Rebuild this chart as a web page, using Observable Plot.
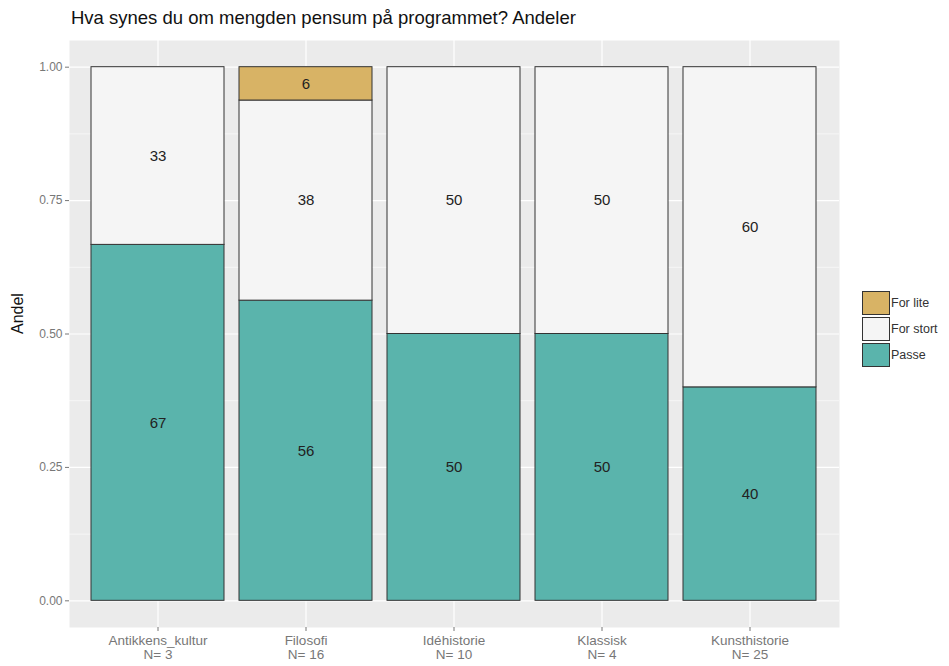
<!DOCTYPE html>
<html>
<head>
<meta charset="utf-8">
<script src="https://cdn.jsdelivr.net/npm/d3@7"></script>
<script src="https://cdn.jsdelivr.net/npm/@observablehq/plot@0.6"></script>
<style>
  body { margin: 0; background: #fff; font-family: "Liberation Sans", Arial, sans-serif; }
  #wrap { position: relative; width: 949px; height: 666px; }
  #title { position: absolute; left: 71px; top: 7px; font-size: 18.5px; color: #111; white-space: nowrap; }
  #chart { position: absolute; left: 0; top: 36px; }
  #legend { position: absolute; left: 862px; top: 290px; font-size: 12.5px; color: #333; }
  .row { display: flex; align-items: center; height: 26px; }
  .key { width: 28px; height: 24px; border: 1px solid #333; box-sizing: border-box; margin-right: 1px; }
</style>
</head>
<body>
<div id="wrap">
  <div id="title">Hva synes du om mengden pensum på programmet? Andeler</div>
  <div id="chart"></div>
  <div id="legend"></div>
</div>
<script>
const programs = ["Antikkens_kultur", "Filosofi", "Idéhistorie", "Klassisk", "Kunsthistorie"];
const counts = [3, 16, 10, 4, 25];
const answers = ["Passe", "For stort", "For lite"]; // stacking order bottom to top
const colors = ["#5ab4ac", "#f5f5f5", "#d8b365"];
const passe = [0.667, 0.5625, 0.5, 0.5, 0.4];
const forStort = [0.333, 0.375, 0.5, 0.5, 0.6];
const forLite = [0, 0.0625, 0, 0, 0];
const yTicks = [0, 0.25, 0.5, 0.75, 1];
const yMinor = [0.125, 0.375, 0.625, 0.875];

const series = [passe, forStort, forLite];
const rows = [];
programs.forEach((p, i) => {
  let base = 0;
  answers.forEach((a, j) => {
    const v = series[j][i];
    if (v > 0) {
      rows.push({program: p, answer: a, y1: base, y2: base + v, mid: base + v / 2, label: String(Math.round(v * 100))});
    }
    base += v;
  });
});

const nOf = Object.fromEntries(programs.map((p, i) => [p, counts[i]]));

const plot = Plot.plot({
  width: 949,
  height: 630,
  marginLeft: 69,
  marginRight: 110,
  marginTop: 4,
  marginBottom: 39,
  style: {fontFamily: "Liberation Sans, Arial, sans-serif", background: "transparent"},
  x: {domain: programs, paddingInner: 0.1, paddingOuter: 0.15, label: null},
  y: {domain: [-0.05, 1.05], label: null},
  color: {domain: answers, range: colors},
  marks: [
    Plot.frame({fill: "#ebebeb", stroke: null}),
    Plot.ruleY(yMinor, {stroke: "#fff", strokeWidth: 0.6}),
    Plot.ruleY(yTicks, {stroke: "#fff", strokeWidth: 1.2}),
    Plot.ruleX(programs, {x: d => d, stroke: "#fff", strokeWidth: 1.2}),
    Plot.rectY(rows, {x: "program", y1: "y1", y2: "y2", fill: "answer", stroke: "#333", strokeWidth: 1, inset: 0}),
    Plot.text(rows, {x: "program", y: "mid", text: "label", fontSize: 15, fill: "#222"}),
    Plot.axisY(yTicks, {tickFormat: d3.format(".2f"), tickSize: 4, tickPadding: 3, fontSize: 12, color: "#777", label: null}),
    Plot.axisX({tickFormat: p => p + "\nN= " + nOf[p], tickSize: 4, tickPadding: 3, fontSize: 13.5, color: "#777", lineHeight: 1.05, label: null}),
    Plot.text(["Andel"], {frameAnchor: "left", dx: -52, rotate: -90, fontSize: 16, fill: "#111"})
  ]
});
document.getElementById("chart").appendChild(plot);

const legendEl = document.getElementById("legend");
const legendOrder = ["For lite", "For stort", "Passe"];
legendOrder.forEach(a => {
  const r = document.createElement("div");
  r.className = "row";
  const k = document.createElement("div");
  k.className = "key";
  k.style.background = colors[answers.indexOf(a)];
  const t = document.createElement("span");
  t.textContent = a;
  r.appendChild(k); r.appendChild(t);
  legendEl.appendChild(r);
});
</script>
</body>
</html>
